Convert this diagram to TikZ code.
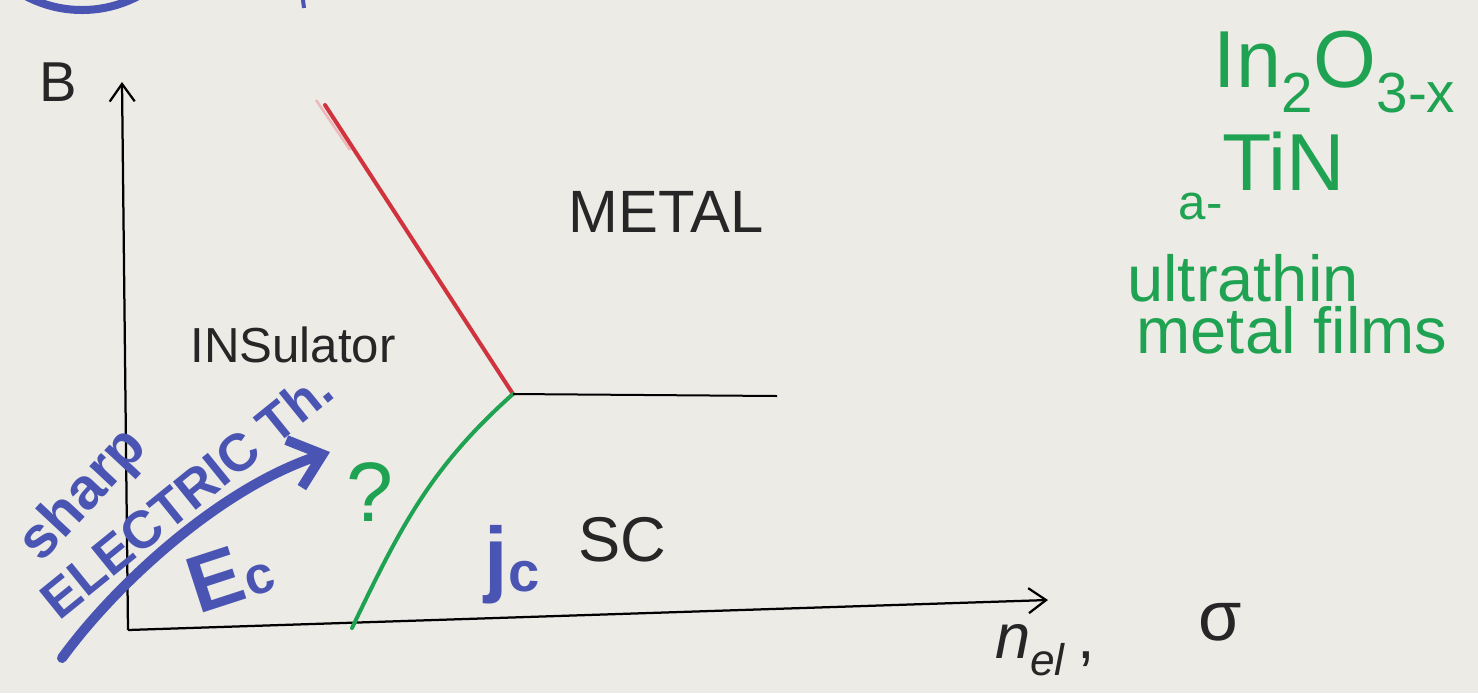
\documentclass[tikz,border=0pt]{standalone}
\usepackage{fontspec}
\setmainfont{Liberation Sans}
\usetikzlibrary{arrows.meta}

\definecolor{paper}{HTML}{ECEBE6}
\definecolor{penblue}{HTML}{4A55B3}
\definecolor{pengreen}{HTML}{1FA252}
\definecolor{penred}{HTML}{D0333D}

\newcommand{\pt}[1]{\fontsize{#1}{#1}\selectfont}

\tikzset{
    axis/.style={line width=0.45mm, -{Straight Barb[length=3.5mm,width=5mm,line width=0.45mm]}},
    phase red/.style={penred, line width=0.8mm, line cap=round},
    phase green/.style={pengreen, line width=0.8mm, line cap=round},
    phase black/.style={black, line width=0.4mm},
    field arrow/.style={penblue, line width=2mm, line cap=round,
        -{Straight Barb[length=6mm,width=10mm,line width=2mm]}},
    black text/.style={text=black!85, font=\pt{32}},
    blue text/.style={text=penblue, font=\bfseries\pt{30}},
    green text/.style={text=pengreen, font=\pt{37}}
}

\begin{document}
\begin{tikzpicture}[x=0.2mm, y=-0.2mm, every node/.style={inner sep=0pt}]

\fill[paper] (0,0) rectangle (1478,693);
\useasboundingbox (0,0) rectangle (1478,693);

% pieces cut by the top edge
\begin{scope}
\clip (0,0) rectangle (1478,693);
\draw[penblue, line width=1.6mm] (82,-110) circle (24mm);
\draw[penblue, line width=0.8mm] (303,0) -- (304,8);
\end{scope}

% axes
\coordinate (origin) at (128,630);
\coordinate (Btip) at (122,82);
\coordinate (ntip) at (1048,600);
\draw[axis] (origin) -- (Btip);
\draw[axis] (origin) -- (ntip);
\node[black text] (B) at (58,82) {B};
\node[black text, font=\pt{36}] (nel) at (1045,650) {\textit{n}\textsubscript{\textit{el}}\,,};
\node[black text, font=\pt{40}] (sigma) at (1220,622) {σ};

% phase boundaries
\coordinate (redtop) at (325,105);
\coordinate (triple) at (513,394);
\coordinate (greenbot) at (352,628);
\coordinate (scend) at (777,396);
\draw[penred!35, line width=0.5mm] (316,100) -- (350,150);
\draw[phase red] (redtop) -- (triple);
\draw[phase green] (greenbot) .. controls (400,528) and (430,468) .. (triple);
\draw[phase black] (triple) -- (scend);

% regions
\node[black text, font=\pt{34}] (metal) at (666,212) {METAL};
\node[black text, font=\pt{28}] (insulator) at (293,345) {INSulator};
\node[black text, font=\pt{36}] (sc) at (622,540) {SC};
\node[text=pengreen, font=\pt{48}] (question) at (370,492) {?};

% sharp transition in electric field
\coordinate (fieldstart) at (62,658);
\coordinate (fieldend) at (330,452);
\draw[field arrow] (fieldstart) .. controls (115,585) and (220,488) .. (fieldend);
\node[blue text, font=\bfseries\pt{33}, rotate=47] (sharp) at (84,496) {sharp};
\node[blue text, rotate=39] (electric) at (186,494) {ELECTRIC Th.};
\node[blue text, rotate=18] (ec) at (230,575) {\pt{46}E\pt{30}c};
\node[blue text] (jc) at (512,565) {\pt{48}j\raisebox{-0.05em}{\pt{32}c}};

% materials
\node[green text, font=\pt{46}] (indium) at (1335,72) {In\textsubscript{2}O\textsubscript{3-x}};
\node[green text, font=\pt{46}] (tin) at (1262,176) {\raisebox{-0.35em}{\pt{28}a-}TiN};
\node[green text] (ultrathin) at (1243,278) {ultrathin};
\node[green text] (films) at (1292,330) {metal films};

\end{tikzpicture}
\end{document}
